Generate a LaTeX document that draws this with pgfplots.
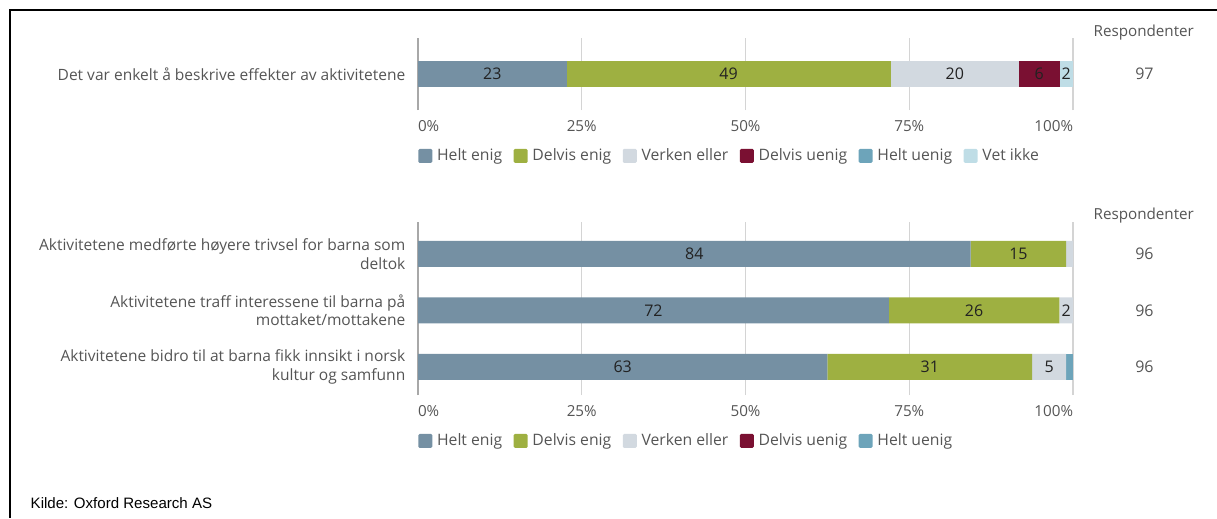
\documentclass[border=0pt]{standalone}
\usepackage{fontspec}
\setmainfont{Open Sans}
\newfontfamily\arialf{Liberation Sans}
\usepackage{pgfplots}
\pgfplotsset{compat=1.18}
\definecolor{c1}{HTML}{7590A3}
\definecolor{c2}{HTML}{9EB041}
\definecolor{c3}{HTML}{D2D9E0}
\definecolor{c4}{HTML}{7A1032}
\definecolor{c5}{HTML}{6DA4BA}
\definecolor{c6}{HTML}{BFDDE6}
\definecolor{txt}{HTML}{555555}
\definecolor{numc}{HTML}{222222}
\definecolor{gridc}{HTML}{D4D4D4}
\definecolor{axc}{HTML}{A8A8A8}
\newcommand{\fs}{\fontsize{11.65}{14}\selectfont}
\newcommand{\fsT}{\fontsize{11.4}{13.5}\selectfont}
\newcommand{\fsL}{\fontsize{11.8}{14}\selectfont}
\newcommand{\fsN}{\fontsize{12}{14}\selectfont}
\pgfplotsset{
  geom/.style={scale only axis, width=491.25pt, xmin=0, xmax=100, clip=false},
  bars/.style={geom, xbar stacked, bar width=19.5pt,
    axis lines*=left, x axis line style={draw=none}, y axis line style={draw=axc, line width=0.9pt},
    major tick length=0pt,
    xtick={0,25,50,75,100},
    xticklabels={\phantom{0\%}0\%,25\%,50\%,75\%,100\%\phantom{100\%}},
    xmajorgrids, grid style={draw=gridc, line width=0.9pt},
    xticklabel style={font=\fsT, text=txt, yshift=-4pt},
    yticklabel style={font=\fs, text=txt, align=right, xshift=-6pt},
    legend columns=-1,
    legend style={draw=none, fill=none, at={(0,0)}, anchor=north west, xshift=-3pt, yshift=-25pt,
      font=\fsL, text=txt, nodes={inner xsep=3.6pt}, /tikz/every even column/.append style={column sep=5pt}},
    legend image code/.code={\fill[##1, draw=none, rounded corners=1pt] (0pt,-5.25pt) rectangle (10.5pt,5.25pt);},
  },
  labs/.style={geom, hide axis},
  nums/.style={draw=none, nodes near coords, point meta=explicit symbolic, nodes near coords align={center},
    every node near coord/.append style={font=\fsN, text=numc, anchor=center}},
  resp/.style={draw=none, nodes near coords, point meta=explicit symbolic, nodes near coords align={center},
    every node near coord/.append style={font=\fsN, text=txt, anchor=center}},
}
\begin{document}
\begin{tikzpicture}[x=0.75pt,y=-0.75pt]
\useasboundingbox (0,0) rectangle (1217,518);
\draw[line width=1.6pt] (1217,10) -| (10,518);
% ---------- top chart ----------
\begin{axis}[bars, at={(313.5pt,-28.5pt)}, anchor=north west, height=54pt, ymin=-1, ymax=1,
  ytick={0}, yticklabels={Det var enkelt å beskrive effekter av aktivitetene}]
\addplot[fill=c1, draw=none] coordinates {(22.68,0)}; \addlegendentry{Helt enig}
\addplot[fill=c2, draw=none] coordinates {(49.48,0)}; \addlegendentry{Delvis enig}
\addplot[fill=c3, draw=none] coordinates {(19.59,0)}; \addlegendentry{Verken eller}
\addplot[fill=c4, draw=none] coordinates {(6.19,0)}; \addlegendentry{Delvis uenig}
\addplot[fill=c5, draw=none] coordinates {(0,0)}; \addlegendentry{Helt uenig}
\addplot[fill=c6, draw=none] coordinates {(2.06,0)}; \addlegendentry{Vet ikke}
\end{axis}
\begin{axis}[labs, at={(313.5pt,-28.5pt)}, anchor=north west, height=54pt, ymin=-1, ymax=1]
\addplot[nums] coordinates {(11.34,0)[23] (47.42,0)[49] (81.95,0)[20] (94.84,0)[6] (98.97,0)[2]};
\addplot[resp] coordinates {(110.9,0)[97]};
\node[font=\fsT, text=txt] at (axis description cs:1.108,1.08) {Respondenter};
\end{axis}
% ---------- bottom chart ----------
\begin{axis}[bars, at={(313.5pt,-166.5pt)}, anchor=north west, height=129.75pt, ymin=-0.5, ymax=2.566,
  ytick={0,1,2}, yticklabels={{Aktivitetene bidro til at barna fikk innsikt i norsk\\kultur og samfunn},
    {Aktivitetene traff interessene til barna på\\mottaket/mottakene},
    {Aktivitetene medførte høyere trivsel for barna som\\deltok}}]
\addplot[fill=c1, draw=none] coordinates {(62.50,0) (71.88,1) (84.38,2)}; \addlegendentry{Helt enig}
\addplot[fill=c2, draw=none] coordinates {(31.25,0) (26.04,1) (14.58,2)}; \addlegendentry{Delvis enig}
\addplot[fill=c3, draw=none] coordinates {(5.21,0) (2.08,1) (1.04,2)}; \addlegendentry{Verken eller}
\addplot[fill=c4, draw=none] coordinates {(0,0) (0,1) (0,2)}; \addlegendentry{Delvis uenig}
\addplot[fill=c5, draw=none] coordinates {(1.04,0) (0,1) (0,2)}; \addlegendentry{Helt uenig}
\end{axis}
\begin{axis}[labs, at={(313.5pt,-166.5pt)}, anchor=north west, height=129.75pt, ymin=-0.5, ymax=2.566]
\addplot[nums] coordinates {(42.19,2)[84] (91.67,2)[15]
  (35.94,1)[72] (84.90,1)[26] (98.96,1)[2]
  (31.25,0)[63] (78.13,0)[31] (96.35,0)[5]};
\addplot[resp] coordinates {(110.9,2)[96] (110.9,1)[96] (110.9,0)[96]};
\node[font=\fsT, text=txt] at (axis description cs:1.108,1.035) {Respondenter};
\end{axis}
\node[anchor=west, font=\arialf\fontsize{11.3}{13}\selectfont] at (26,503) {Kilde: Oxford Research AS};
\end{tikzpicture}
\end{document}
